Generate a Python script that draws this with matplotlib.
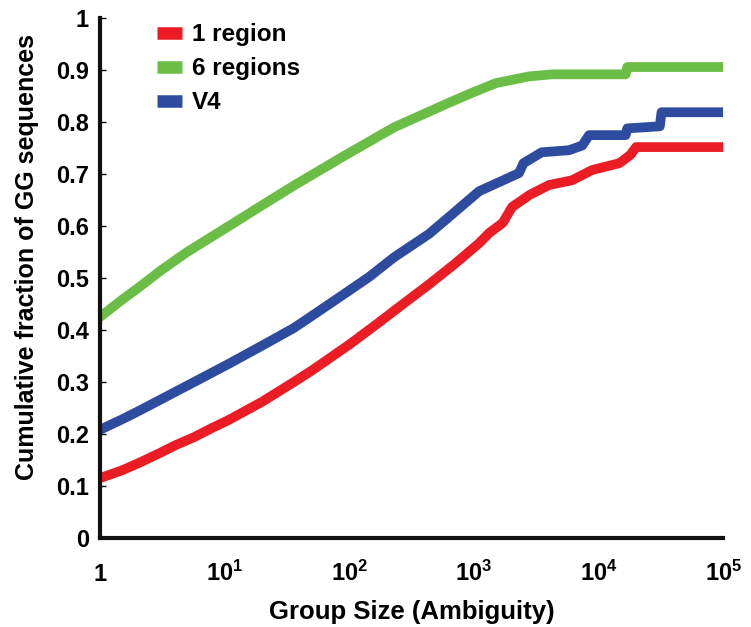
import matplotlib
matplotlib.use('Agg')
import matplotlib.pyplot as plt
from matplotlib.ticker import FixedLocator, FixedFormatter, NullLocator

plt.rcParams['font.family'] = ['Liberation Sans', 'DejaVu Sans']
plt.rcParams['font.weight'] = 'bold'
plt.rcParams['mathtext.fontset'] = 'custom'
plt.rcParams['mathtext.rm'] = 'Liberation Sans:bold'
plt.rcParams['mathtext.bf'] = 'Liberation Sans:bold'
plt.rcParams['mathtext.it'] = 'Liberation Sans:bold'

# group size (ambiguity) vs cumulative fraction
one_region_x = [1, 1.5, 2, 3, 4, 5.7, 8, 10.8, 20, 36, 50, 100, 174, 229, 437,
                700, 1100, 1330, 1700, 2030, 2800, 4000, 6100, 8900, 14700,
                18000, 20000, 100000]
one_region_y = [0.115, 0.13, 0.143, 0.163, 0.178, 0.194, 0.212, 0.227, 0.262,
                0.300, 0.322, 0.372, 0.415, 0.437, 0.488, 0.527, 0.567, 0.587,
                0.606, 0.637, 0.66, 0.679, 0.688, 0.708, 0.721, 0.737, 0.752,
                0.752]

six_regions_x = [1, 1.5, 2, 3.1, 5, 10.5, 20, 36, 91, 229, 600, 1000, 1500,
                 2770, 4260, 16500, 17000, 100000]
six_regions_y = [0.425, 0.458, 0.48, 0.515, 0.55, 0.598, 0.64, 0.678, 0.735,
                 0.79, 0.835, 0.858, 0.875, 0.888, 0.892, 0.892, 0.906, 0.906]

v4_x = [1, 1.5, 2, 3, 5.7, 10.8, 20, 36, 50, 100, 144, 229, 437, 600, 1100,
        2300, 2500, 3500, 5800, 7400, 8400, 16500, 17000, 31000, 32000, 100000]
v4_y = [0.208, 0.228, 0.243, 0.265, 0.30, 0.335, 0.37, 0.404, 0.427, 0.476,
        0.502, 0.54, 0.585, 0.613, 0.667, 0.702, 0.721, 0.742, 0.746, 0.755,
        0.775, 0.775, 0.788, 0.792, 0.819, 0.819]

x_ticks = [1, 10, 100, 1000, 10000, 100000]
x_tick_labels = ['1', r'$10^{1}$', r'$10^{2}$', r'$10^{3}$', r'$10^{4}$', r'$10^{5}$']
y_ticks = [0, 0.1, 0.2, 0.3, 0.4, 0.5, 0.6, 0.7, 0.8, 0.9, 1]
y_tick_labels = ['0', '0.1', '0.2', '0.3', '0.4', '0.5', '0.6', '0.7', '0.8', '0.9', '1']

RED = '#ec1c24'
GREEN = '#6abd45'
BLUE = '#2e4c9f'

fig = plt.figure(figsize=(7.51, 6.27), dpi=100)
ax = fig.add_axes([0.133, 0.142, 0.830, 0.829])

lw = 7
ax.plot(one_region_x, one_region_y, color=RED, lw=lw, label='1 region')
ax.plot(six_regions_x, six_regions_y, color=GREEN, lw=lw, label='6 regions')
ax.plot(v4_x, v4_y, color=BLUE, lw=lw, label='V4')

ax.set_xscale('log')
ax.set_xlim(1, 100000)
ax.set_ylim(0, 1)

ax.xaxis.set_major_locator(FixedLocator(x_ticks))
ax.xaxis.set_major_formatter(FixedFormatter(x_tick_labels))
ax.xaxis.set_minor_locator(NullLocator())
ax.set_yticks(y_ticks)
ax.set_yticklabels(y_tick_labels)

ax.tick_params(axis='x', length=0, pad=31, labelsize=17)
ax.tick_params(axis='y', direction='in', length=4, width=1, pad=8, labelsize=17)
for t in ax.xaxis.get_major_ticks():
    t.label1.set_va('baseline')

for side in ['top', 'right']:
    ax.spines[side].set_visible(False)
for side in ['left', 'bottom']:
    ax.spines[side].set_linewidth(3)
    ax.spines[side].set_color('#111111')

ax.set_xlabel('Group Size (Ambiguity)', fontsize=18.5, fontweight='bold', labelpad=10)
ax.set_ylabel('Cumulative fraction of GG sequences', fontsize=18,
              fontweight='bold')
ax.yaxis.set_label_coords(-0.097, 0.54)

leg = ax.legend(loc='upper left', bbox_to_anchor=(0.076, 1.009), frameon=False,
                fontsize=17.5, handlelength=1.05, handletextpad=0.4,
                labelspacing=0.45, borderaxespad=0)
for h in leg.get_lines():
    h.set_linewidth(9)
    h.set_solid_capstyle('butt')

fig.savefig('out.png', dpi=100, facecolor='white')
